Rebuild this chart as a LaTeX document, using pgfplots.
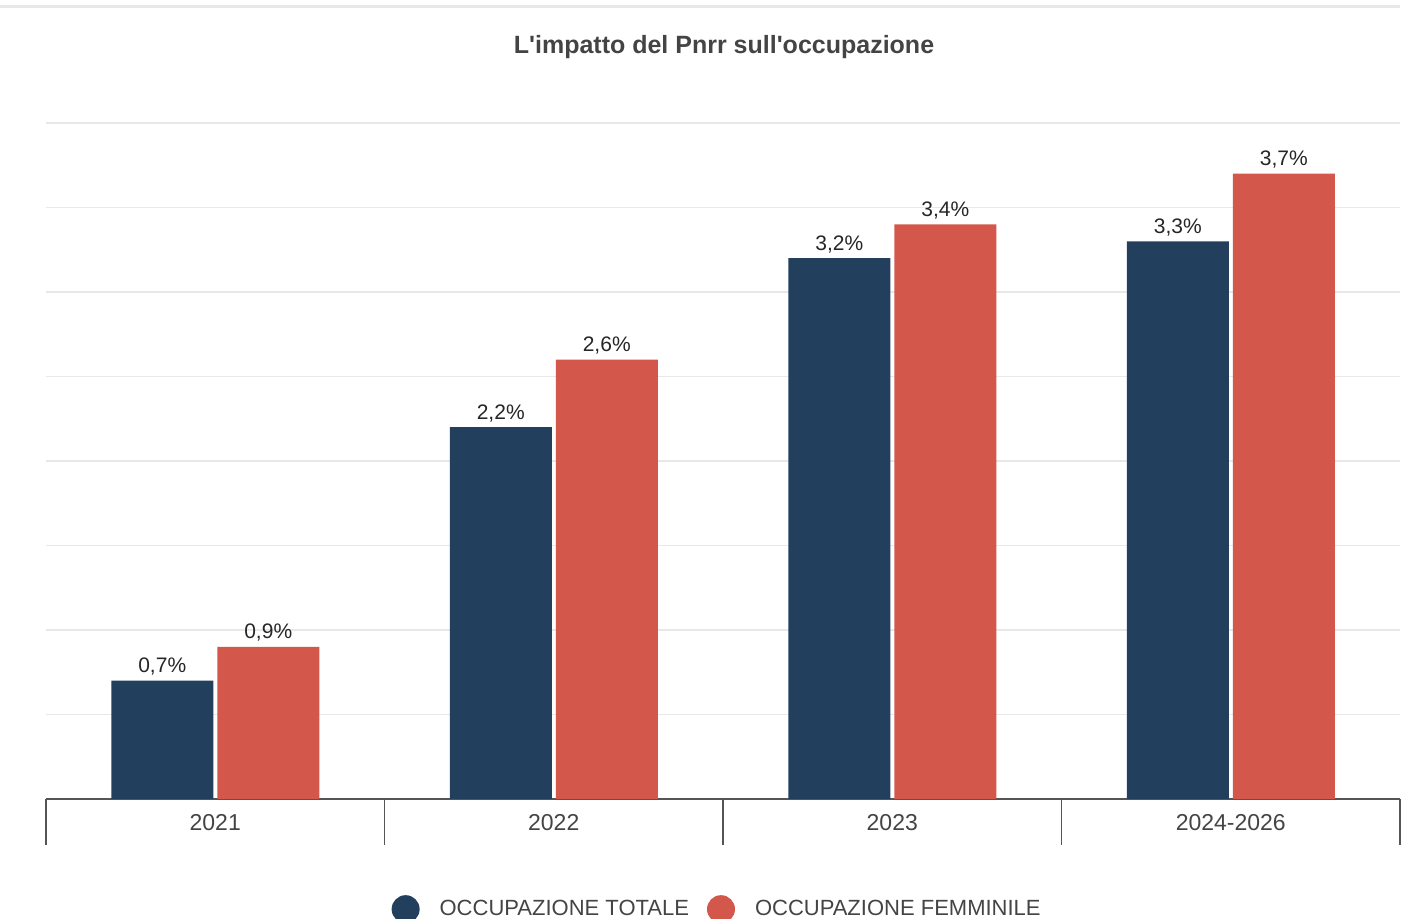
\documentclass[border=0pt]{standalone}
\usepackage{pgfplots}
\pgfplotsset{compat=1.18}
\usepackage{fontspec}
\setmainfont{Liberation Sans}
\definecolor{navy}{HTML}{22405E}
\definecolor{brick}{HTML}{D3574A}
\definecolor{gridgray}{HTML}{E8E8E8}
\definecolor{axisgray}{HTML}{555555}
\definecolor{txtgray}{HTML}{444444}
\begin{document}
\begin{tikzpicture}
\path[use as bounding box] (0,0) rectangle (706pt,459.5pt);
\draw[gridgray, line width=1.5pt] (0,456pt) -- (700pt,456pt);
\node[font=\bfseries\fontsize{12.5pt}{15pt}\selectfont, text=txtgray] at (362pt,436pt)
  {L\textquotesingle impatto del Pnrr sull\textquotesingle occupazione};
\begin{axis}[
  at={(23pt,60pt)}, anchor=south west,
  scale only axis, width=677pt, height=338pt,
  ybar=2pt, bar width=51pt,
  xmin=-0.5, xmax=3.5, ymin=0, ymax=4,
  axis x line*=bottom, axis y line*=left,
  y axis line style={draw=none},
  x axis line style={axisgray, line width=1.2pt},
  xtick={-0.5,0.5,1.5,2.5,3.5},
  x tick label as interval,
  xticklabels={2021,2022,2023,2024-2026},
  x tick style={draw=axisgray, line width=0.75pt},
  xmajorgrids=false,
  major x tick style={/pgfplots/major tick length=23pt},
  tick align=outside,
  xticklabel style={font=\fontsize{11.5pt}{13pt}\selectfont, text=txtgray},
  ytick={0.5,1,...,4}, yticklabels={},
  y tick style={draw=none},
  ymajorgrids, grid style={gridgray, line width=0.75pt},
  nodes near coords={\pgfmathprintnumber[fixed,fixed zerofill,precision=1,use comma,assume math mode=true]{\pgfplotspointmeta}\%},
  every node near coord/.append style={font=\fontsize{10.5pt}{12pt}\selectfont, text=black!85, inner sep=2.5pt},
  legend style={at={(0.4964,-0.163)}, anchor=center, draw=none, fill=none,
    legend columns=2, font=\fontsize{11pt}{13pt}\selectfont, text=txtgray,
    /tikz/every odd column/.append style={column sep=8pt},
    /tikz/every even column/.append style={column sep=7pt}},
  legend image code/.code={\fill[#1] (4pt,0pt) circle (7pt);},
]
\addplot[fill=navy, draw=none] coordinates {(0,0.7) (1,2.2) (2,3.2) (3,3.3)};
\addplot[fill=brick, draw=none] coordinates {(0,0.9) (1,2.6) (2,3.4) (3,3.7)};
\legend{OCCUPAZIONE TOTALE, OCCUPAZIONE FEMMINILE}
\end{axis}
\end{tikzpicture}
\end{document}
